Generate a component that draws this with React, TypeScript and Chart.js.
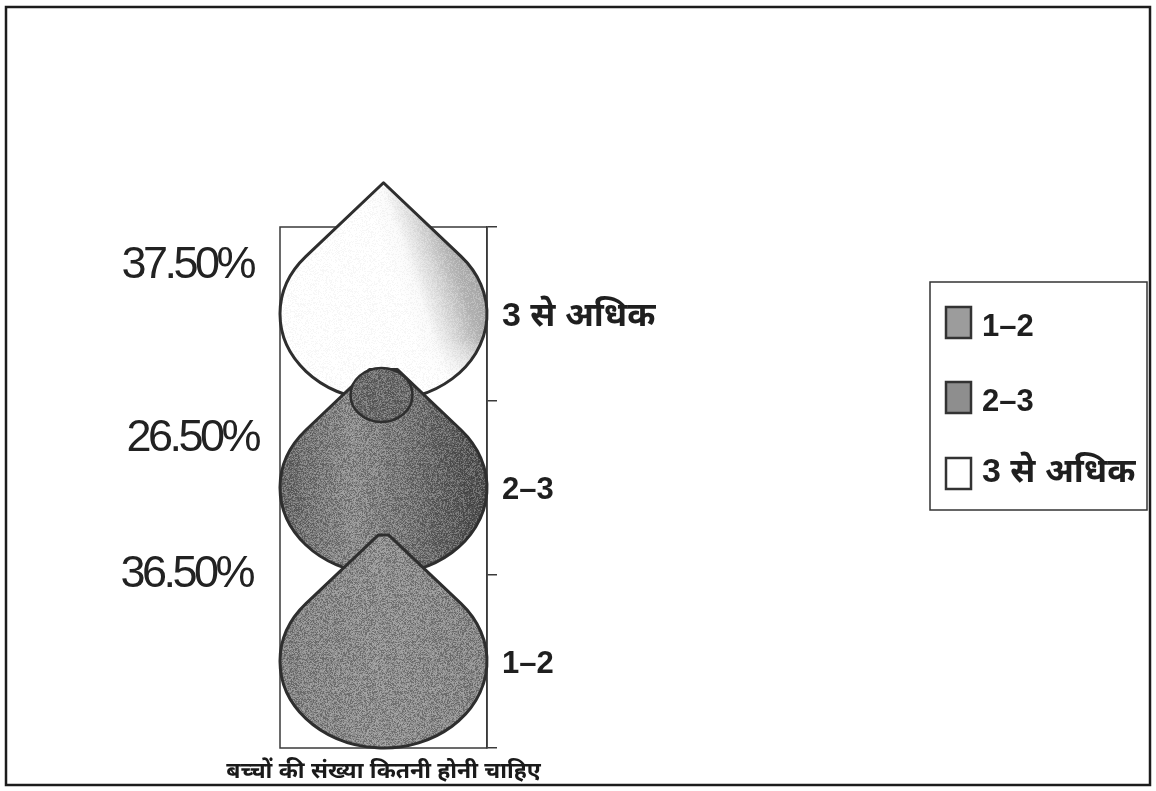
import React, { useEffect, useRef } from "react";
import { Chart, registerables } from "chart.js";

Chart.register(...registerables);

const categories = ["1–2", "2–3", "3 से अधिक"];
const shares = [36.5, 26.5, 37.5];
const axisTitle = "बच्चों की संख्या कितनी होनी चाहिए";

const FONT = '"Liberation Sans", "Noto Sans", "DejaVu Sans", sans-serif';
const INK = "#2e2e2e";

function makeGrain(dark: number, light: number) {
  const c = document.createElement("canvas");
  c.width = 97;
  c.height = 97;
  const g = c.getContext("2d")!;
  for (let y = 0; y < 97; y++) {
    for (let x = 0; x < 97; x++) {
      const h = Math.sin(x * 12.9898 + y * 78.233) * 43758.5453;
      const f = h - Math.floor(h);
      if (f < 0.3) {
        g.fillStyle = `rgba(0,0,0,${dark})`;
        g.fillRect(x, y, 1, 1);
      } else if (f > 0.72) {
        g.fillStyle = `rgba(255,255,255,${light})`;
        g.fillRect(x, y, 1, 1);
      }
    }
  }
  return c;
}

function dropPath(ctx: CanvasRenderingContext2D, cx: number, cy: number, rx: number, ry: number, h: number, cut: number) {
  const s = ry / h;
  const t0 = -Math.asin(s);
  const tx = rx * Math.cos(t0);
  const ty = ry * Math.sin(t0);
  const fw = (cut * tx) / (h + ty);
  ctx.beginPath();
  ctx.moveTo(cx - fw, cy - h + cut);
  ctx.lineTo(cx + fw, cy - h + cut);
  ctx.ellipse(cx, cy, rx, ry, 0, t0, Math.PI - t0);
  ctx.closePath();
}

const dropPlugin = {
  id: "drops",
  afterDatasetsDraw(chart: any) {
    const { ctx, chartArea: a } = chart;
    const meta = chart.getDatasetMeta(0);
    const rx = (a.right - a.left) / 2;
    const cx = (a.left + a.right) / 2;
    const grain = ctx.createPattern(makeGrain(0.22, 0.2), "repeat");
    const faint = ctx.createPattern(makeGrain(0.03, 0.2), "repeat");

    // plot frame
    ctx.save();
    ctx.strokeStyle = "#3a3a3a";
    ctx.lineWidth = 1.5;
    ctx.strokeRect(a.left, a.top, a.right - a.left, a.bottom - a.top);
    ctx.restore();

    const cuts = [5, 13, 0];
    const fills = [
      () => {
        const g = ctx.createLinearGradient(a.left, 0, a.right, 0);
        g.addColorStop(0, "#838383");
        g.addColorStop(0.5, "#8f8f8f");
        g.addColorStop(1, "#858585");
        return g;
      },
      () => {
        const g = ctx.createLinearGradient(a.left, 0, a.right, 0);
        g.addColorStop(0, "#666666");
        g.addColorStop(0.35, "#8c8c8c");
        g.addColorStop(0.55, "#7c7c7c");
        g.addColorStop(0.85, "#5c5c5c");
        g.addColorStop(1, "#4f4f4f");
        return g;
      },
      () => {
        const g = ctx.createLinearGradient(cx + 8, meta.data[2].y - 40, cx + 98, meta.data[2].y - 70);
        g.addColorStop(0, "#ffffff");
        g.addColorStop(0.2, "#fafafa");
        g.addColorStop(0.65, "#b5b5b5");
        g.addColorStop(1, "#9c9c9c");
        return g;
      },
    ];

    for (let i = meta.data.length - 1; i >= 0; i--) {
      const bar = meta.data[i];
      const band = bar.height;
      const ry = band / 2;
      const h = band * 0.755;
      const cy = bar.y;
      ctx.save();
      dropPath(ctx, cx, cy, rx, ry, h, cuts[i]);
      ctx.fillStyle = fills[i]();
      ctx.fill();
      ctx.save();
      ctx.clip();
      if (i === 2) {
        // the shading fades out towards the lower edge
        const fade = ctx.createLinearGradient(0, cy + 25, 0, cy + 75);
        fade.addColorStop(0, "rgba(255,255,255,0)");
        fade.addColorStop(1, "rgba(255,255,255,1)");
        ctx.fillStyle = fade;
        ctx.fillRect(a.left - 5, cy + 25, a.right - a.left + 10, ry);
      }
      ctx.fillStyle = i === 2 ? faint : grain;
      ctx.fillRect(a.left - 5, a.top - 60, a.right - a.left + 10, a.bottom - a.top + 80);
      ctx.restore();
      ctx.strokeStyle = INK;
      ctx.lineWidth = 3;
      ctx.lineJoin = "round";
      ctx.stroke();

      if (i === 1) {
        // base of the funnel tip
        const ey = cy - band * 0.533;
        ctx.beginPath();
        ctx.ellipse(cx - 2, ey, 31, 27, 0, 0, Math.PI * 2);
        ctx.fillStyle = "#6a6a6a";
        ctx.fill();
        ctx.save();
        ctx.clip();
        ctx.fillStyle = grain;
        ctx.fillRect(cx - 40, ey - 40, 80, 80);
        ctx.restore();
        ctx.strokeStyle = INK;
        ctx.lineWidth = 2.5;
        ctx.stroke();
      }
      ctx.restore();
    }

    // value labels
    const rightEdge = [252, 258, 253];
    const lift = [87, 48.5, 48];
    ctx.save();
    ctx.fillStyle = "#222";
    ctx.font = `45px ${FONT}`;
    (ctx as any).letterSpacing = "-3.5px";
    ctx.textAlign = "right";
    ctx.textBaseline = "middle";
    shares.forEach((v, i) => {
      ctx.fillText(`${v.toFixed(2)}%`, rightEdge[i], meta.data[i].y - lift[i]);
    });
    ctx.restore();

    // axis title
    ctx.save();
    ctx.fillStyle = "#1a1a1a";
    ctx.font = `bold 23px ${FONT}`;
    ctx.textAlign = "center";
    ctx.textBaseline = "middle";
    ctx.fillText(axisTitle, cx, a.bottom + 24);
    ctx.restore();

    // legend
    const L = 930, T = 282, R = 1147, B = 510;
    ctx.save();
    ctx.strokeStyle = "#333";
    ctx.lineWidth = 1.5;
    ctx.strokeRect(L, T, R - L, B - T);
    const boxes = [307, 382, 458];
    const rows = [327, 402, 473];
    const swatch = ["#9c9c9c", "#8e8e8e", "#ffffff"];
    ctx.textBaseline = "middle";
    ctx.textAlign = "left";
    categories.forEach((c, i) => {
      ctx.fillStyle = swatch[i];
      ctx.fillRect(946, boxes[i], 25, 31);
      ctx.strokeStyle = "#333";
      ctx.lineWidth = 2.5;
      ctx.strokeRect(946, boxes[i], 25, 31);
      ctx.fillStyle = "#1f1f1f";
      ctx.font = `bold ${i === 2 ? 34 : 31}px ${FONT}`;
      ctx.fillText(c, 982, rows[i]);
    });
    ctx.restore();

    // outer frame
    ctx.save();
    ctx.strokeStyle = "#1c1c1c";
    ctx.lineWidth = 2.5;
    ctx.strokeRect(6, 7, 1144, 778);
    ctx.restore();
  },
};

export default function App() {
  const ref = useRef<HTMLCanvasElement>(null);
  useEffect(() => {
    const chart = new Chart(ref.current!, {
      type: "bar",
      data: {
        labels: categories,
        datasets: [
          {
            label: "बच्चों की संख्या",
            data: shares,
            backgroundColor: "rgba(0,0,0,0)",
            borderWidth: 0,
            barPercentage: 1,
            categoryPercentage: 1,
          },
        ],
      },
      options: {
        indexAxis: "y",
        responsive: false,
        animation: false,
        layout: { padding: { left: 280, top: 227, bottom: 43, right: 0 } },
        plugins: { legend: { display: false }, tooltip: { enabled: false } },
        scales: {
          x: { display: false, min: 0, max: 100 },
          y: {
            position: "right",
            reverse: true,
            afterFit: (s: any) => {
              s.width = 669;
            },
            border: { color: "#3a3a3a", width: 1.5 },
            grid: { drawOnChartArea: false, tickLength: 10, color: "#3a3a3a", lineWidth: 1.5 },
            ticks: {
              padding: 5,
              labelOffset: 3,
              color: "#1f1f1f",
              font: (c: any) => ({ family: FONT, size: c.index === 2 ? 34 : 31, weight: "bold" }),
            },
          },
        },
      },
      plugins: [dropPlugin],
    } as any);
    return () => chart.destroy();
  }, []);
  return (
    <div style={{ position: "fixed", left: 0, top: 0, width: 1156, height: 791, background: "#fff" }}>
      <canvas ref={ref} width={1156} height={791} style={{ display: "block" }} />
    </div>
  );
}
